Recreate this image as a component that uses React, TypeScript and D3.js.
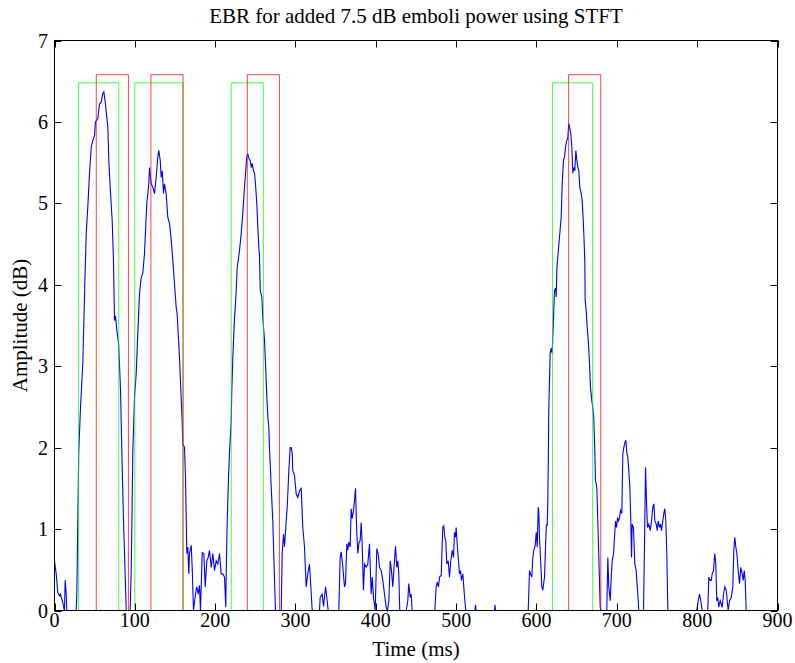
import React from "react";
import * as d3 from "d3";

// ---- data ----
const title = "EBR for added 7.5 dB emboli power using STFT";
const xLabel = "Time (ms)";
const yLabel = "Amplitude (dB)";
const xTicks = [0, 100, 200, 300, 400, 500, 600, 700, 800, 900];
const yTicks = [0, 1, 2, 3, 4, 5, 6, 7];

const timeMs = [
  0.0, 2.1, 4.1, 6.2, 7.5, 8.7, 10.3, 11.6, 12.4, 13.3, 14.6, 15.3, 27.0, 27.8, 29.0, 30.2, 32.4, 35.2, 36.7, 37.7,
  39.5, 41.7, 43.6, 45.7, 47.7, 49.8, 51.0, 53.9, 56.0, 58.1, 60.1, 61.4, 63.1, 64.4, 66.4, 67.6, 69.3, 71.8, 73.4, 74.7,
  75.9, 77.6, 79.7, 80.9, 82.2, 83.8, 85.9, 87.8, 89.3, 94.2, 95.5, 96.5, 97.5, 99.6, 101.7, 103.7, 105.8, 107.9, 109.9, 112.0,
  114.9, 117.4, 118.3, 120.4, 122.4, 124.5, 126.6, 128.6, 129.8, 131.6, 132.8, 134.1, 135.7, 136.9, 139.0, 141.0, 143.2, 145.3, 147.3, 149.4,
  151.5, 152.7, 155.6, 157.8, 159.0, 159.7, 161.8, 163.1, 164.7, 165.9, 167.2, 168.0, 170.2, 171.4, 173.0, 175.5, 177.1, 178.9, 180.5, 181.7,
  183.9, 185.9, 187.6, 189.6, 191.3, 192.9, 195.1, 197.1, 199.2, 201.3, 203.3, 205.4, 207.5, 209.5, 211.6, 213.2, 213.7, 215.0, 216.6, 217.8,
  220.0, 220.7, 222.0, 224.1, 225.0, 226.2, 227.4, 229.0, 230.3, 232.4, 234.4, 236.5, 237.8, 239.4, 240.6, 241.9, 243.6, 244.9, 246.1, 247.7,
  249.0, 250.2, 251.8, 253.1, 254.3, 255.2, 256.1, 258.1, 259.3, 261.4, 262.7, 264.3, 265.6, 266.8, 267.6, 269.8, 271.7, 273.9, 275.1, 282.2,
  283.4, 285.1, 286.3, 288.4, 289.7, 291.7, 293.4, 294.6, 295.9, 296.6, 298.7, 300.9, 302.9, 305.0, 307.1, 309.1, 311.2, 313.3, 315.3, 317.4,
  319.1, 320.8, 329.9, 330.7, 333.2, 334.9, 337.4, 339.0, 340.7, 353.9, 355.6, 356.9, 358.1, 358.9, 361.0, 362.2, 363.9, 365.1, 366.3, 368.1,
  369.3, 370.6, 372.2, 373.4, 374.7, 376.3, 377.6, 378.8, 380.5, 381.8, 383.0, 384.6, 385.9, 388.0, 390.0, 392.1, 394.2, 395.5, 397.1, 399.2,
  401.2, 402.9, 404.6, 406.7, 408.7, 410.8, 412.9, 414.5, 416.2, 417.9, 419.5, 421.1, 423.2, 424.5, 426.1, 427.4, 428.6, 429.8, 437.8, 439.8,
  441.0, 442.8, 444.0, 445.3, 473.4, 475.1, 476.4, 478.0, 479.3, 481.4, 482.6, 483.4, 484.6, 485.9, 487.1, 488.3, 490.1, 491.7, 493.3, 495.1,
  496.7, 497.9, 499.2, 500.0, 501.3, 502.9, 504.1, 505.4, 506.6, 508.3, 509.5, 510.8, 512.0, 523.4, 524.1, 524.7, 547.7, 548.3, 549.0, 589.7,
  591.3, 592.5, 594.2, 595.4, 596.7, 598.4, 599.7, 600.9, 602.2, 602.9, 603.7, 605.0, 606.6, 607.8, 610.0, 611.2, 612.4, 613.3, 614.1, 614.7,
  615.3, 617.0, 618.3, 619.5, 621.2, 622.4, 623.7, 624.5, 625.3, 626.5, 628.6, 630.7, 632.0, 633.6, 634.9, 636.1, 637.7, 639.0, 640.2, 641.5,
  642.7, 644.0, 645.2, 646.5, 647.7, 649.0, 650.2, 651.5, 652.7, 653.9, 655.7, 656.9, 658.2, 659.4, 660.1, 660.6, 661.9, 663.1, 664.7, 666.0,
  667.2, 668.8, 670.1, 671.3, 672.6, 673.4, 675.1, 676.3, 677.5, 679.3, 680.3, 687.5, 688.8, 690.0, 691.8, 693.0, 694.3, 695.9, 697.1, 698.4,
  699.6, 700.9, 702.1, 703.4, 704.6, 706.2, 707.5, 708.7, 710.0, 711.2, 712.5, 713.7, 714.9, 716.2, 717.4, 718.3, 719.1, 720.7, 722.4, 724.1,
  726.1, 727.4, 733.2, 734.5, 735.7, 737.0, 738.2, 739.8, 741.6, 743.2, 744.8, 746.1, 747.3, 749.1, 750.3, 751.5, 753.2, 754.4, 755.6, 757.2,
  758.5, 759.7, 761.0, 762.2, 763.5, 799.5, 801.3, 802.9, 804.5, 806.2, 813.2, 814.5, 816.2, 817.5, 818.7, 820.3, 821.9, 823.2, 824.4, 825.7,
  826.9, 828.7, 831.1, 832.8, 834.4, 836.2, 837.4, 838.6, 840.3, 842.4, 844.4, 845.6, 846.9, 848.1, 849.4, 851.1, 852.7, 854.3, 856.1, 857.3,
  858.6, 859.8, 861.0,
];

const amplitudeDb = [
  0.61, 0.45, 0.22, 0.18, 0.20, 0.15, 0.10, 0.03, 0.0, 0.37, 0.20, 0.0, 0.0, 0.20, 1.1, 1.96, 2.5, 3.03, 3.6, 4.0,
  4.63, 5.0, 5.37, 5.69, 5.77, 5.83, 6.0, 6.04, 6.22, 6.24, 6.35, 6.37, 6.25, 6.12, 5.94, 5.53, 5.2, 4.79, 4.3, 3.56,
  3.62, 3.44, 3.28, 3.03, 2.7, 1.96, 1.1, 0.5, 0.0, 0.0, 0.5, 1.2, 1.96, 2.62, 2.91, 3.4, 3.89, 4.09, 4.14, 4.38,
  5.0, 5.24, 5.44, 5.24, 5.2, 5.12, 5.32, 5.57, 5.65, 5.53, 5.32, 5.4, 5.12, 5.24, 5.12, 4.83, 4.75, 4.55, 4.3, 4.01,
  3.72, 3.64, 3.11, 2.58, 2.3, 2.05, 2.0, 1.63, 0.70, 0.78, 0.45, 0.70, 0.80, 0.53, 0.0, 0.2, 0.29, 0.2, 0.31, 0.0,
  0.71, 0.70, 0.29, 0.61, 0.65, 0.74, 0.53, 0.70, 0.49, 0.61, 0.57, 0.70, 0.45, 0.45, 0.41, 0.04, 0.41, 1.1, 1.63, 1.93,
  2.33, 2.7, 3.11, 3.6, 3.72, 3.93, 4.21, 4.32, 4.42, 4.63, 4.88, 5.2, 5.37, 5.57, 5.61, 5.55, 5.53, 5.44, 5.49, 5.4,
  5.37, 5.24, 5.0, 4.71, 4.46, 4.35, 3.93, 3.85, 3.6, 3.32, 3.03, 2.62, 2.37, 2.25, 2.0, 1.51, 1.1, 0.37, 0.0, 0.0,
  0.7, 0.94, 0.78, 1.1, 1.27, 1.72, 2.0, 2.0, 1.93, 1.72, 1.66, 1.43, 1.39, 1.47, 1.5, 1.02, 0.78, 0.29, 0.45, 0.57,
  0.29, 0.0, 0.0, 0.16, 0.2, 0.05, 0.29, 0.16, 0.0, 0.0, 0.65, 0.72, 0.61, 0.53, 0.29, 0.33, 0.82, 0.74, 0.84, 0.78,
  1.25, 1.13, 1.23, 1.35, 1.5, 0.94, 0.70, 0.82, 0.86, 1.08, 0.82, 0.25, 0.57, 0.53, 0.57, 0.82, 0.2, 0.41, 0.16, 0.0,
  0.76, 0.70, 0.53, 0.49, 0.37, 0.2, 0.04, 0.0, 0.12, 0.61, 0.49, 0.29, 0.61, 0.79, 0.53, 0.61, 0.45, 0.0, 0.0, 0.12,
  0.33, 0.16, 0.2, 0.0, 0.0, 0.29, 0.35, 0.29, 0.41, 0.43, 0.82, 1.02, 1.04, 0.9, 0.86, 0.57, 0.61, 0.41, 0.61, 0.74,
  0.65, 0.96, 0.9, 1.02, 0.82, 0.61, 0.45, 0.49, 0.37, 0.45, 0.29, 0.12, 0.0, 0.0, 0.07, 0.0, 0.0, 0.07, 0.0, 0.0,
  0.49, 0.45, 0.41, 0.65, 0.74, 0.8, 0.96, 0.78, 1.27, 1.19, 0.9, 0.65, 0.29, 0.25, 0.41, 0.78, 1.06, 1.04, 1.35, 1.84,
  2.46, 3.16, 3.22, 3.16, 3.6, 3.93, 3.96, 3.85, 4.18, 4.34, 4.58, 4.83, 5.24, 5.53, 5.57, 5.69, 5.77, 5.81, 5.98, 5.92,
  5.86, 5.69, 5.37, 5.44, 5.4, 5.65, 5.53, 5.44, 5.4, 5.2, 5.12, 5.03, 4.79, 4.5, 4.3, 3.81, 3.68, 3.48, 3.28, 3.03,
  2.74, 2.58, 2.49, 2.37, 1.96, 1.6, 1.51, 1.1, 0.7, 0.04, 0.0, 0.0, 0.65, 0.29, 0.12, 0.41, 0.61, 0.7, 0.9, 1.1,
  1.02, 1.14, 1.1, 1.14, 1.23, 1.19, 1.93, 2.0, 2.06, 2.09, 1.93, 1.88, 1.72, 1.51, 1.1, 0.65, 1.06, 1.02, 0.57, 0.49,
  0.2, 0.0, 0.0, 0.86, 1.76, 1.31, 1.02, 1.06, 0.98, 1.1, 1.27, 1.31, 1.1, 1.06, 0.98, 1.1, 1.02, 1.06, 0.98, 1.1,
  1.19, 1.25, 1.1, 0.7, 0.0, 0.0, 0.12, 0.2, 0.12, 0.0, 0.0, 0.41, 0.37, 0.37, 0.45, 0.49, 0.7, 0.57, 0.12, 0.16,
  0.04, 0.12, 0.04, 0.2, 0.29, 0.25, 0.12, 0.0, 0.12, 0.16, 0.29, 0.74, 0.9, 0.78, 0.7, 0.49, 0.33, 0.53, 0.45, 0.37,
  0.49, 0.37, 0.0,
];

// detection windows (ms) and their plotted levels (dB)
const greenStarts = [30, 100, 220, 620];
const greenEnds = [80, 160, 260, 670];
const greenLevel = 6.48;
const redStarts = [52, 120, 240, 640];
const redEnds = [92, 160, 280, 680];
const redLevel = 6.58;

// ---- layout ----
const W = 795;
const H = 663;
const M = { left: 54.5, right: 777.5, top: 40.5, bottom: 610.5 };
const FONT = "'Liberation Serif', 'Times New Roman', serif";

export default function App() {
  const x = d3.scaleLinear().domain([0, 900]).range([M.left, M.right]);
  const y = d3.scaleLinear().domain([0, 7]).range([M.bottom, M.top]);

  const pts: [number, number][] = timeMs.map((t, i) => [t, amplitudeDb[i]]);
  const line = d3
    .line<[number, number]>()
    .x((d) => x(d[0]))
    .y((d) => y(d[1]));

  const rectPath = (s: number, e: number, lvl: number) =>
    line([
      [s, 0],
      [s, lvl],
      [e, lvl],
      [e, 0],
    ]) as string;

  const tickLen = 7;

  return (
    <svg
      width={W}
      height={H}
      style={{ position: "absolute", left: 0, top: 0, background: "#fff" }}
      fontFamily={FONT}
    >
      <rect x={0} y={0} width={W} height={H} fill="#fff" />
      {/* data */}
      <path d={line(pts) as string} fill="none" stroke="#0000ff" strokeWidth={1.1} />
      {greenStarts.map((s, i) => (
        <path
          key={"g" + i}
          d={rectPath(s, greenEnds[i], greenLevel)}
          fill="none"
          stroke="#00ff00"
          strokeOpacity={0.75}
          strokeWidth={1}
        />
      ))}
      {redStarts.map((s, i) => (
        <path
          key={"r" + i}
          d={rectPath(s, redEnds[i], redLevel)}
          fill="none"
          stroke="#ff0000"
          strokeOpacity={0.75}
          strokeWidth={1}
        />
      ))}

      {/* axes box */}
      <rect
        x={M.left}
        y={M.top}
        width={M.right - M.left}
        height={M.bottom - M.top}
        fill="none"
        stroke="#000"
        strokeWidth={1}
      />
      {/* x ticks */}
      {xTicks.map((t) => (
        <g key={"xt" + t}>
          <line x1={Math.round(x(t)) + 0.5} x2={Math.round(x(t)) + 0.5} y1={M.bottom} y2={M.bottom - tickLen} stroke="#000" />
          <line x1={Math.round(x(t)) + 0.5} x2={Math.round(x(t)) + 0.5} y1={M.top} y2={M.top + tickLen} stroke="#000" />
          <text x={x(t)} y={627} textAnchor="middle" fontSize={20}>
            {t}
          </text>
        </g>
      ))}
      {/* y ticks */}
      {yTicks.map((t) => (
        <g key={"yt" + t}>
          <line x1={M.left} x2={M.left + tickLen} y1={Math.round(y(t)) + 0.5} y2={Math.round(y(t)) + 0.5} stroke="#000" />
          <line x1={M.right} x2={M.right - tickLen} y1={Math.round(y(t)) + 0.5} y2={Math.round(y(t)) + 0.5} stroke="#000" />
          <text x={48} y={y(t) + 7} textAnchor="end" fontSize={20}>
            {t}
          </text>
        </g>
      ))}
      {/* labels */}
      <text x={(M.left + M.right) / 2} y={23} textAnchor="middle" fontSize={21}>
        {title}
      </text>
      <text x={(M.left + M.right) / 2} y={656} textAnchor="middle" fontSize={21}>
        {xLabel}
      </text>
      <text
        transform={`translate(27, ${(M.top + M.bottom) / 2}) rotate(-90)`}
        textAnchor="middle"
        fontSize={21}
      >
        {yLabel}
      </text>
    </svg>
  );
}
